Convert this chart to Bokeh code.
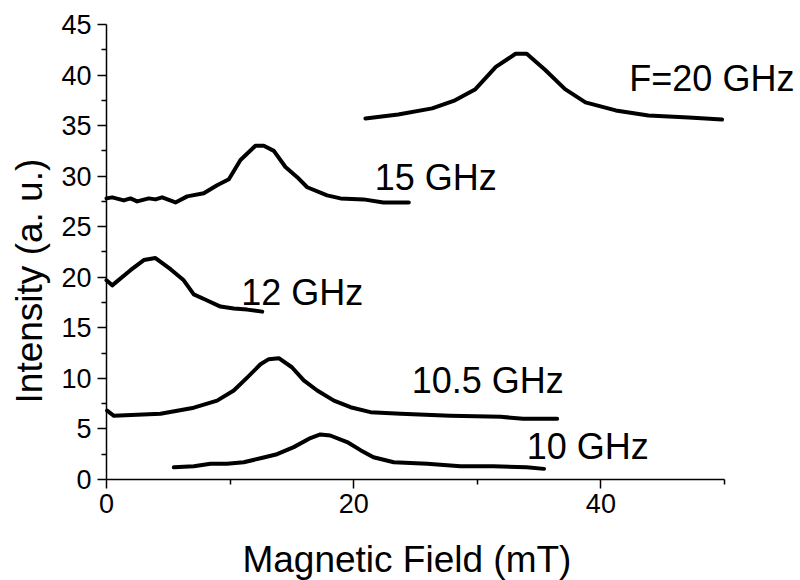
import math
from bokeh.plotting import figure
from bokeh.models import Range1d, FixedTicker
from bokeh.core.properties import value
from bokeh.embed import file_html
from bokeh.resources import INLINE

# ---- data ----
f20_x = [20.95, 23.6, 26.35, 28.2, 29.85, 31.5, 33.1, 34.0, 35.5, 37.1, 38.75, 41.2, 43.85, 47.1, 49.8]
f20_y = [35.7, 36.1, 36.7, 37.5, 38.6, 40.8, 42.1, 42.1, 40.5, 38.6, 37.3, 36.5, 36.0, 35.8, 35.6]

f15_x = [0.0, 0.46, 1.4, 1.94, 2.48, 3.42, 3.96, 4.5, 5.58, 6.53, 7.87, 8.95, 9.9, 10.84, 12.05,
         12.73, 13.54, 14.48, 15.43, 16.24, 17.85, 18.93, 20.8, 22.4, 24.46]
f15_y = [27.8, 27.9, 27.6, 27.8, 27.5, 27.8, 27.7, 27.9, 27.4, 28.0, 28.3, 29.1, 29.7, 31.6, 33.0,
         33.0, 32.5, 30.9, 29.9, 28.9, 28.1, 27.8, 27.7, 27.4, 27.4]

f12_x = [0.0, 0.46, 1.94, 3.02, 3.96, 5.18, 6.25, 7.06, 8.15, 9.22, 10.3, 11.38, 12.6]
f12_y = [19.7, 19.2, 20.7, 21.7, 21.9, 20.8, 19.7, 18.3, 17.7, 17.1, 16.9, 16.8, 16.6]

f105_x = [0.05, 0.6, 4.37, 7.07, 8.95, 10.3, 11.4, 12.46, 13.13, 13.94, 15.0, 15.96, 17.05, 18.4,
          19.74, 21.36, 23.8, 27.8, 31.9, 33.7, 36.46]
f105_y = [6.8, 6.3, 6.5, 7.1, 7.8, 8.8, 10.1, 11.4, 11.9, 12.0, 11.1, 9.8, 8.8, 7.8,
          7.15, 6.66, 6.5, 6.3, 6.2, 6.0, 6.0]

f10_x = [5.45, 7.07, 8.41, 9.76, 11.1, 12.46, 13.8, 15.15, 16.5, 17.3, 18.1, 19.47, 20.55, 21.6,
         23.24, 25.95, 28.64, 31.3, 34.0, 35.4]
f10_y = [1.2, 1.3, 1.55, 1.55, 1.7, 2.1, 2.5, 3.2, 4.1, 4.45, 4.35, 3.7, 2.9, 2.2,
         1.7, 1.55, 1.3, 1.3, 1.2, 1.05]

labels = ["F=20 GHz", "15 GHz", "12 GHz", "10.5 GHz", "10 GHz"]

x_major = [0, 20, 40]
x_minor = [10, 30, 50]
y_major = [0, 5, 10, 15, 20, 25, 30, 35, 40, 45]
y_minor = [2.5, 7.5, 12.5, 17.5, 22.5, 27.5, 32.5, 37.5, 42.5]

x_title = "Magnetic Field (mT)"
y_title = "Intensity (a. u.)"

FONT = "Liberation Sans"

# The plotting frame covers the whole page so that no text is clipped; the
# axes are pinned at x = 0 / y = 0 and bounded to the data extents.
p = figure(width=800, height=580, output_backend="svg", toolbar_location=None,
           x_range=Range1d(-8.576, 56.15), y_range=Range1d(-9.99, 47.37),
           min_border_left=0, min_border_right=0, min_border_top=0, min_border_bottom=0)
p.outline_line_color = None
p.grid.visible = False
p.background_fill_color = "white"
p.border_fill_color = "white"

for xs, ys in [(f20_x, f20_y), (f15_x, f15_y), (f12_x, f12_y), (f105_x, f105_y), (f10_x, f10_y)]:
    p.line(xs, ys, line_color="black", line_width=4, line_join="round", line_cap="round")

p.xaxis.ticker = FixedTicker(ticks=x_major, minor_ticks=x_minor)
p.yaxis.ticker = FixedTicker(ticks=y_major, minor_ticks=y_minor)
p.xaxis.bounds = (0, 50)
p.yaxis.bounds = (0, 45)
p.xaxis.fixed_location = 0
p.yaxis.fixed_location = 0

for ax in (p.xaxis[0], p.yaxis[0]):
    ax.axis_line_color = "black"
    ax.axis_line_width = 1.5
    ax.major_tick_line_color = "black"
    ax.major_tick_line_width = 1.5
    ax.minor_tick_line_color = "black"
    ax.minor_tick_line_width = 1.5
    ax.major_tick_in = 0
    ax.major_tick_out = 9
    ax.minor_tick_in = 0
    ax.minor_tick_out = 5
    ax.major_label_text_font = FONT
    ax.major_label_text_font_size = "27px"
    ax.major_label_text_color = "black"

p.xaxis.major_label_standoff = 6
p.yaxis.major_label_standoff = 6

# axis titles, drawn as text next to the pinned axes
p.text(x=[11.0], y=[-9.2], text=[x_title], text_font=value(FONT), text_font_size="37px",
       text_color="black", text_baseline="alphabetic", text_align="left", y_offset=-13)
p.text(x=[-5.34], y=[7.52], text=[y_title], angle=math.pi / 2, text_font=value(FONT),
       text_font_size="37px", text_color="black", text_baseline="alphabetic",
       text_align="left", x_offset=-11)

label_x = [42.3, 21.7, 10.9, 24.7, 34.0]
label_y = [38.4, 28.6, 17.2, 8.5, 1.98]
p.text(x=label_x, y=label_y, text=labels, text_font=value(FONT), text_font_size="36px",
       text_color="black", text_baseline="alphabetic", text_align="left", y_offset=-13)

open("out.html", "w").write(file_html(p, INLINE))
